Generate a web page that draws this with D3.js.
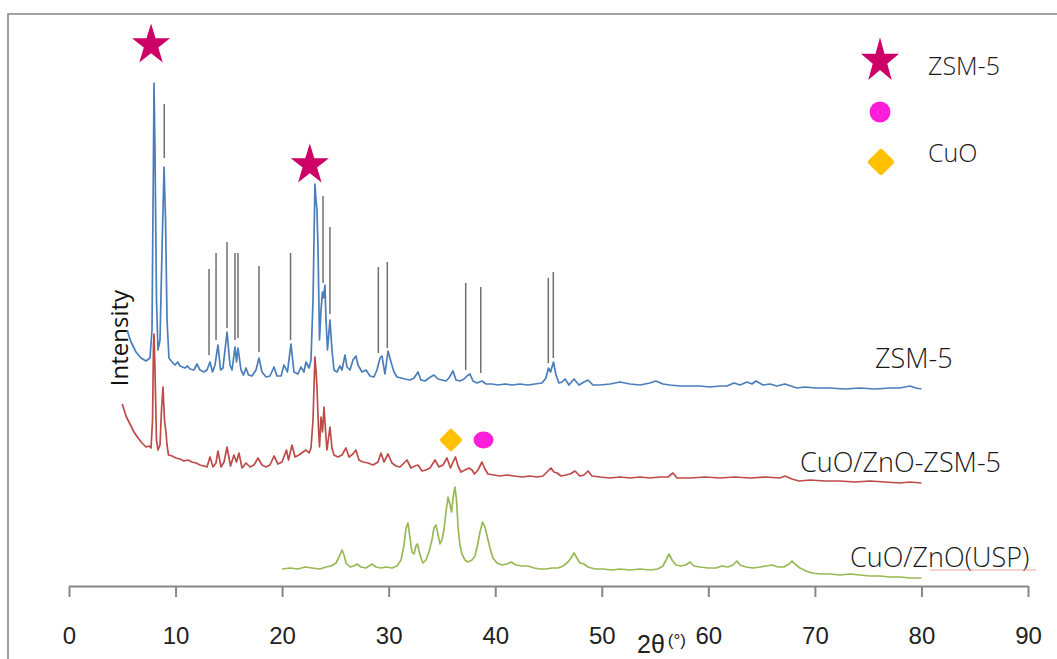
<!DOCTYPE html>
<html>
<head>
<meta charset="utf-8">
<script src="https://cdn.jsdelivr.net/npm/d3@7"></script>
<style>
  html, body { margin: 0; padding: 0; background: #fff; }
  svg { display: block; }
  text { font-family: "Open Sans", "Noto Sans", sans-serif; }
</style>
</head>
<body>
<svg id="chart" width="1057" height="659"></svg>
<script>
// XRD patterns: [2θ (°), intensity (a.u., stacked with offsets)]
const zsm5 = [
  [5.44,256],[5.82,244],[6.29,234],[6.76,228],[7.23,225],[7.60,228],[7.79,256],[7.93,436],[7.98,503],
  [8.07,436],[8.21,286],[8.35,236],[8.54,246],[8.73,336],[8.92,419],[9.06,366],[9.20,266],[9.38,228],
  [9.67,224],[9.95,221],[10.20,224],[10.42,220],[10.89,218],[11.12,220],[11.36,217],[11.73,216],
  [12.01,222],[12.29,216],[12.67,214],[12.95,216],[13.23,224],[13.47,214],[13.70,221],[13.98,241],
  [14.22,216],[14.45,218],[14.83,254],[15.11,221],[15.30,216],[15.58,239],[15.72,224],[15.86,238],
  [16.14,216],[16.38,211],[16.61,218],[16.85,211],[17.17,210],[17.55,216],[17.83,228],[18.11,214],
  [18.49,209],[18.86,210],[19.24,219],[19.52,210],[19.90,210],[20.18,221],[20.50,214],[20.83,242],
  [21.11,214],[21.49,212],[21.77,219],[22.05,214],[22.24,224],[22.53,218],[22.71,226],[22.90,286],
  [23.08,402],[23.18,386],[23.27,376],[23.37,336],[23.51,246],[23.65,276],[23.79,294],[23.88,288],
  [24.02,301],[24.12,266],[24.26,236],[24.49,266],[24.68,236],[24.87,216],[25.15,214],[25.43,220],
  [25.62,216],[25.90,231],[26.09,219],[26.37,216],[26.65,226],[26.93,230],[27.12,221],[27.50,214],
  [27.87,216],[28.25,210],[28.62,209],[28.90,216],[29.19,228],[29.37,230],[29.65,212],[29.94,235],
  [30.22,224],[30.50,214],[30.78,209],[31.16,208],[31.53,207],[32.00,206],[32.38,208],[32.75,214],
  [33.03,206],[33.41,205],[33.78,208],[34.25,211],[34.63,207],[35.00,206],[35.38,205],[35.66,208],
  [36.04,215],[36.32,206],[36.69,205],[37.07,207],[37.35,210],[37.63,212],[37.91,205],[38.29,203],
  [38.76,205],[39.13,202],[39.70,202],[40.26,201],[40.92,202],[41.57,201],[42.32,202],[43.07,201],
  [43.73,202],[44.39,203],[44.76,208],[45.00,218],[45.19,214],[45.47,224],[45.70,211],[45.98,203],
  [46.27,204],[46.55,207],[46.92,201],[47.39,207],[47.86,201],[48.33,204],[48.71,206],[49.17,201],
  [49.83,201],[50.77,202],[51.71,204],[52.65,202],[53.59,201],[54.52,203],[55.09,205],[55.74,202],
  [56.40,201],[57.34,200],[58.28,200],[59.22,200],[60.15,199],[61.09,200],[61.75,200],[62.41,203],
  [62.97,201],[63.63,204],[64.10,202],[64.47,205],[65.13,201],[65.78,202],[66.44,200],[67.19,202],
  [68.32,198],[69.07,199],[70.01,198],[71.42,198],[72.82,197],[74.23,198],[75.64,197],[77.05,198],
  [77.98,198],[78.92,200],[79.49,198],[80.00,197]
];

const cuoZnoZsm5 = [
  [5.00,182],[5.35,170],[5.72,162],[6.10,154],[6.48,148],[6.85,143],[7.23,139],[7.51,140],[7.70,138],
  [7.84,166],[7.93,241],[7.98,252],[8.07,216],[8.21,146],[8.35,136],[8.54,141],[8.68,176],[8.82,199],
  [8.96,166],[9.10,154],[9.20,141],[9.34,131],[9.67,130],[10.04,128],[10.42,127],[10.79,125],
  [11.17,126],[11.54,124],[11.92,123],[12.29,121],[12.67,120],[12.95,119],[13.23,129],[13.51,119],
  [13.79,123],[13.98,135],[14.27,119],[14.55,124],[14.83,139],[15.16,120],[15.48,131],[15.72,124],
  [15.95,133],[16.24,118],[16.61,123],[16.99,119],[17.36,121],[17.74,128],[18.11,121],[18.49,119],
  [18.86,121],[19.24,130],[19.61,122],[19.99,124],[20.41,136],[20.60,126],[20.93,141],[21.21,129],
  [21.58,131],[21.96,134],[22.24,136],[22.53,133],[22.71,138],[22.90,166],[23.08,229],[23.18,216],
  [23.27,199],[23.42,156],[23.51,139],[23.65,169],[23.79,154],[23.93,179],[24.07,156],[24.21,136],
  [24.49,159],[24.68,138],[24.87,131],[25.24,129],[25.62,131],[25.99,138],[26.28,129],[26.65,132],
  [26.93,136],[27.21,126],[27.59,124],[28.06,123],[28.53,121],[29.00,124],[29.28,133],[29.56,124],
  [29.94,132],[30.31,123],[30.69,120],[31.06,119],[31.44,123],[31.72,126],[32.09,118],[32.47,120],
  [32.75,121],[33.13,115],[33.50,116],[33.88,118],[34.35,126],[34.72,119],[35.10,121],[35.47,128],
  [35.80,118],[36.04,124],[36.27,129],[36.51,120],[36.79,114],[37.16,116],[37.54,118],[37.82,116],
  [38.05,112],[38.38,116],[38.76,124],[38.99,118],[39.32,112],[39.88,111],[40.45,110],[41.10,111],
  [41.76,110],[42.51,109],[43.26,110],[43.92,109],[44.48,110],[44.86,114],[45.23,118],[45.51,114],
  [45.80,113],[46.17,110],[46.64,111],[47.02,112],[47.49,115],[47.95,110],[48.33,111],[48.71,115],
  [49.08,110],[49.83,109],[50.77,108],[51.71,109],[52.65,108],[53.59,109],[54.52,108],[55.46,109],
  [56.21,109],[56.68,113],[57.06,108],[58.28,108],[59.68,109],[61.09,108],[62.50,109],[63.91,108],
  [65.32,109],[66.72,108],[67.19,110],[67.85,107],[68.51,105],[69.54,106],[70.95,105],[72.35,105],
  [73.76,104],[75.17,105],[76.58,104],[77.98,103],[78.92,104],[80.00,103]
];

const cuoZnoUsp = [
  [20.00,17],[20.74,18],[21.49,17],[22.15,19],[22.80,18],[23.55,17],[24.12,19],[24.59,20],[25.06,23],
  [25.34,29],[25.62,36],[25.81,31],[26.00,23],[26.37,19],[26.75,20],[27.03,22],[27.40,19],[27.87,18],
  [28.15,20],[28.44,22],[28.81,19],[29.28,18],[29.75,19],[30.31,18],[30.78,20],[31.16,26],[31.44,41],
  [31.63,58],[31.81,63],[32.00,48],[32.19,34],[32.38,32],[32.56,40],[32.71,42],[32.85,35],[33.03,28],
  [33.22,23],[33.50,26],[33.78,34],[34.06,46],[34.25,58],[34.44,61],[34.68,49],[34.82,42],[35.00,46],
  [35.19,56],[35.38,74],[35.57,89],[35.76,81],[35.90,74],[36.04,88],[36.22,99],[36.37,86],[36.51,59],
  [36.69,41],[36.88,32],[37.16,26],[37.44,24],[37.82,26],[38.10,30],[38.34,41],[38.57,54],[38.81,64],
  [39.04,59],[39.28,48],[39.51,38],[39.79,28],[40.17,23],[40.64,21],[41.10,22],[41.48,24],[41.95,21],
  [42.51,20],[43.07,20],[43.64,18],[44.20,17],[44.76,17],[45.33,18],[45.89,18],[46.36,20],[46.83,24],
  [47.11,28],[47.39,33],[47.67,28],[47.95,23],[48.33,22],[48.71,19],[49.36,17],[50.11,17],[50.96,16],
  [51.71,17],[52.65,16],[53.59,17],[54.52,16],[55.27,17],[55.74,20],[56.03,26],[56.31,32],[56.59,26],
  [56.97,21],[57.43,20],[57.90,21],[58.28,24],[58.65,20],[59.22,19],[59.97,18],[60.72,18],[61.28,20],
  [61.84,19],[62.31,21],[62.69,25],[62.97,21],[63.53,19],[64.19,18],[64.85,19],[65.41,20],[65.97,21],
  [66.54,19],[67.10,19],[67.57,22],[67.85,25],[68.13,22],[68.60,18],[69.16,15],[69.73,13],[70.48,12],
  [71.42,12],[72.35,11],[73.29,12],[74.23,11],[75.17,10],[76.11,10],[77.05,9],[77.98,9],[78.92,8],
  [80.00,8]
];

// ZSM-5 reference reflections drawn as vertical markers: [2θ, top, bottom]
const refLines = [
  [8.94,482,428],[13.14,317,231],[13.80,333,246],[14.83,344,258],[15.58,333,246],[15.86,333,248],
  [17.83,320,234],[20.79,333,246],[23.84,390,303],[24.49,359,272],[29.03,319,233],[29.87,324,238],
  [37.23,303,216],[38.64,299,213],[44.98,308,223],[45.45,314,228]
];

// Phase markers on the patterns: [2θ, intensity]
const zsmStars = [[7.7,541],[22.6,421]];
const cuoDiamonds = [[35.85,146]];
const znoDots = [[38.9,146]];

const xTicks = [0,10,20,30,40,50,60,70,80,90];
const seriesNames = ["ZSM-5","CuO/ZnO-ZSM-5","CuO/ZnO(USP)"];
const legendNames = ["ZSM-5","","CuO"];

const colors = { zsm: "#4A7EBB", cz: "#BE4B48", usp: "#98B954",
                 star: "#CC0066", dot: "#FF1FD8", diamond: "#FFC000", ref: "#6f6f6f", frame: "#878787" };

const svg = d3.select("#chart");
const x = d3.scaleLinear().domain([0, 90]).range([69, 1028]);
const y = d3.scaleLinear().domain([0, 572]).range([586, 14]);

// outer frame (top and left edges)
svg.append("path")
  .attr("d", "M8,659 L8,14 L1057,14")
  .attr("fill", "none").attr("stroke", colors.frame).attr("stroke-width", 1.6);

// x axis
const xAxis = d3.axisBottom(x).tickValues(xTicks).tickSize(11).tickSizeOuter(0).tickFormat(d3.format("d"));
const gx = svg.append("g").attr("transform", `translate(0,${y(0)})`).call(xAxis);
gx.select(".domain").attr("stroke", colors.frame).attr("stroke-width", 2);
gx.selectAll(".tick line").attr("stroke", colors.frame).attr("stroke-width", 2);
gx.selectAll(".tick text")
  .attr("y", 58).attr("dy", 0)
  .style("font-family", "'Liberation Sans', Arial, sans-serif")
  .style("font-size", "24px").attr("fill", "#222");

// axis titles
const xt = svg.append("text").attr("x", 637).attr("y", 653).attr("fill", "#222")
  .style("font-family", "'Liberation Sans', Arial, sans-serif");
xt.append("tspan").style("font-size", "25px").text("2θ");
xt.append("tspan").attr("dx", 3).attr("dy", -7).style("font-size", "17px").text("(°)");

svg.append("text")
  .attr("transform", "translate(128,338) rotate(-90)")
  .attr("text-anchor", "middle")
  .style("font-size", "24px").attr("fill", "#111")
  .text("Intensity");

// reference markers
svg.append("g").selectAll("line").data(refLines).join("line")
  .attr("x1", d => x(d[0])).attr("x2", d => x(d[0]))
  .attr("y1", d => y(d[1])).attr("y2", d => y(d[2]))
  .attr("stroke", colors.ref).attr("stroke-width", 1.5);

// patterns
const line = d3.line().x(d => x(d[0])).y(d => y(d[1]));
[[cuoZnoUsp, colors.usp], [cuoZnoZsm5, colors.cz], [zsm5, colors.zsm]].forEach(([data, c]) => {
  svg.append("path").datum(data)
    .attr("d", line)
    .attr("fill", "none").attr("stroke", c)
    .attr("stroke-width", 1.7).attr("stroke-linejoin", "round");
});

// series names
const nameStyle = sel => sel.style("font-size", "27px").style("font-weight", 300).attr("fill", "#1a1a1a");
svg.append("text").attr("x", 875).attr("y", 368).text(seriesNames[0]).call(nameStyle);
svg.append("text").attr("x", 800).attr("y", 472).text(seriesNames[1]).call(nameStyle);
svg.append("text").attr("x", 850).attr("y", 567).text(seriesNames[2]).call(nameStyle);
svg.append("line").attr("x1", 930).attr("x2", 1036).attr("y1", 570).attr("y2", 570)
  .attr("stroke", "#f2a3a3").attr("stroke-width", 1);

// symbols
const starPath = d3.symbol().type(d3.symbolStar).size(449)();
const drawStar = (g, cx, cy, sy) => g.append("path").attr("d", starPath)
  .attr("transform", `translate(${cx},${cy}) scale(1,${sy})`).attr("fill", colors.star);
const drawDiamond = (g, cx, cy, s) => g.append("rect")
  .attr("x", -s / 2).attr("y", -s / 2).attr("width", s).attr("height", s).attr("rx", 2.5)
  .attr("transform", `translate(${cx},${cy}) rotate(45)`).attr("fill", colors.diamond);

zsmStars.forEach(d => drawStar(svg, x(d[0]), y(d[1]), 1.08));
cuoDiamonds.forEach(d => drawDiamond(svg, x(d[0]), y(d[1]), 17));
znoDots.forEach(d => svg.append("ellipse").attr("cx", x(d[0])).attr("cy", y(d[1]))
  .attr("rx", 10).attr("ry", 8.5).attr("fill", colors.dot));

// legend
const lg = svg.append("g");
drawStar(lg, 880, 61, 1.18);
lg.append("circle").attr("cx", 880).attr("cy", 112).attr("r", 10.5).attr("fill", colors.dot);
drawDiamond(lg, 881, 162, 20);
lg.selectAll("text.lt").data(legendNames).join("text").attr("class", "lt")
  .attr("x", 928).attr("y", (d, i) => 75 + i * 43.5)
  .style("font-size", "25px").style("font-weight", 300).attr("fill", "#1a1a1a")
  .text(d => d);
</script>
</body>
</html>
